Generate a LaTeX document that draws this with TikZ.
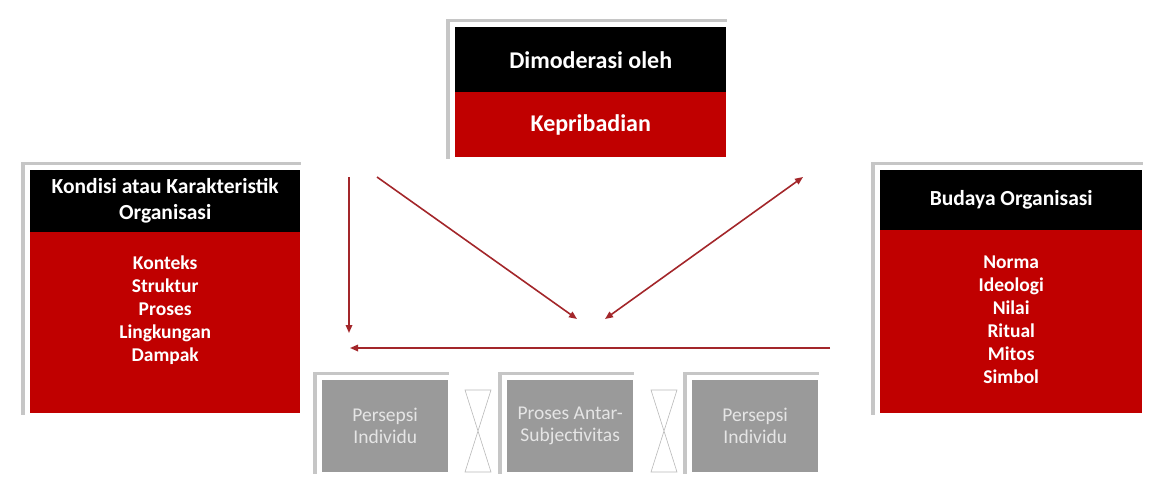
\documentclass[tikz,border=0pt]{standalone}
\usepackage{fontspec}
\setmainfont{Carlito}
\usepackage{tikz}
\usetikzlibrary{positioning,shadows,fit,arrows.meta}
\pgfdeclarelayer{bg}
\pgfsetlayers{bg,main}
\definecolor{kred}{HTML}{C00000}
\definecolor{kgrey}{HTML}{9A9A9A}
\definecolor{karrow}{HTML}{A3262A}

\begin{document}
\begin{tikzpicture}[x=1pt,y=-1pt,
    hdr/.style={fill=black,text=white,font=\bfseries\fontsize{21.5}{26}\selectfont,align=center,inner sep=0pt,anchor=north west},
    body/.style={fill=kred,inner sep=0pt,anchor=north west},
    list/.style={text=white,font=\bfseries\fontsize{19.5}{23}\selectfont,align=center,inner sep=0pt},
    gbox/.style={fill=kgrey,text=white!90!black,font=\fontsize{19.5}{22}\selectfont,align=center,inner sep=0pt,anchor=north west,minimum width=126pt,minimum height=92pt},
    frame/.style={fill=white,inner sep=5pt,general shadow={fill=gray!45,shadow xshift=-4pt,shadow yshift=3pt}},
    link/.style={draw=karrow,line width=1.6pt,-{Triangle[length=8pt,width=6.5pt]}},
    glass/.style={fill=white,draw=gray!55,line width=0.6pt}]
  \useasboundingbox (0,0) rectangle (1158,480);

  % dimoderasi oleh
  \node[hdr,minimum width=271pt,minimum height=65pt,font=\bfseries\fontsize{24}{28}\selectfont] (thead) at (455,27) {Dimoderasi oleh};
  \node[body,minimum width=271pt,minimum height=65pt,text=white,font=\bfseries\fontsize{24}{28}\selectfont] (tbody) at (455,92) {Kepribadian};

  % kondisi organisasi
  \node[hdr,minimum width=270pt,minimum height=62pt] (lhead) at (30,170) {Kondisi atau Karakteristik\\Organisasi};
  \node[body,minimum width=270pt,minimum height=181pt] (lbody) at (30,232) {};
  \node[list,below=23pt of lhead] (llist) {Konteks\\Struktur\\Proses\\Lingkungan\\Dampak};

  % budaya organisasi
  \node[hdr,minimum width=262pt,minimum height=60pt] (rhead) at (880,170) {Budaya Organisasi};
  \node[body,minimum width=262pt,minimum height=183pt] (rbody) at (880,230) {};
  \node[list,below=25pt of rhead] (rlist) {Norma\\Ideologi\\Nilai\\Ritual\\Mitos\\Simbol};

  % persepsi
  \node[gbox] (p1) at (322,380) {Persepsi\\Individu};
  \node[gbox] (p2) at (507,380) {Proses Antar-\\Subjectivitas};
  \node[gbox] (p3) at (692,380) {Persepsi\\Individu};

  \begin{pgfonlayer}{bg}
    \node[frame,fit=(thead)(tbody)] {};
    \node[frame,fit=(lhead)(lbody)] {};
    \node[frame,fit=(rhead)(rbody)] {};
    \foreach \p in {p1,p2,p3}
      \node[frame,fit=(\p)] {};
  \end{pgfonlayer}

  \foreach \hx in {478,664}
    \draw[glass] (\hx-13,390) -- (\hx+13,390) -- (\hx,431) -- (\hx+13,472) -- (\hx-13,472) -- (\hx,431) -- cycle;

  \coordinate (v1) at (349,177);
  \coordinate (v2) at (349,333);
  \coordinate (d1) at (377,177);
  \coordinate (d2) at (577,319);
  \coordinate (e1) at (605,319);
  \coordinate (e2) at (803,177);
  \coordinate (h1) at (830,348);
  \coordinate (h2) at (350,348);

  \draw[link] (v1) -- (v2);
  \draw[link] (d1) -- (d2);
  \draw[link,{Triangle[length=8pt,width=6.5pt]}-{Triangle[length=8pt,width=6.5pt]}] (e1) -- (e2);
  \draw[link] (h1) -- (h2);

\end{tikzpicture}
\end{document}
